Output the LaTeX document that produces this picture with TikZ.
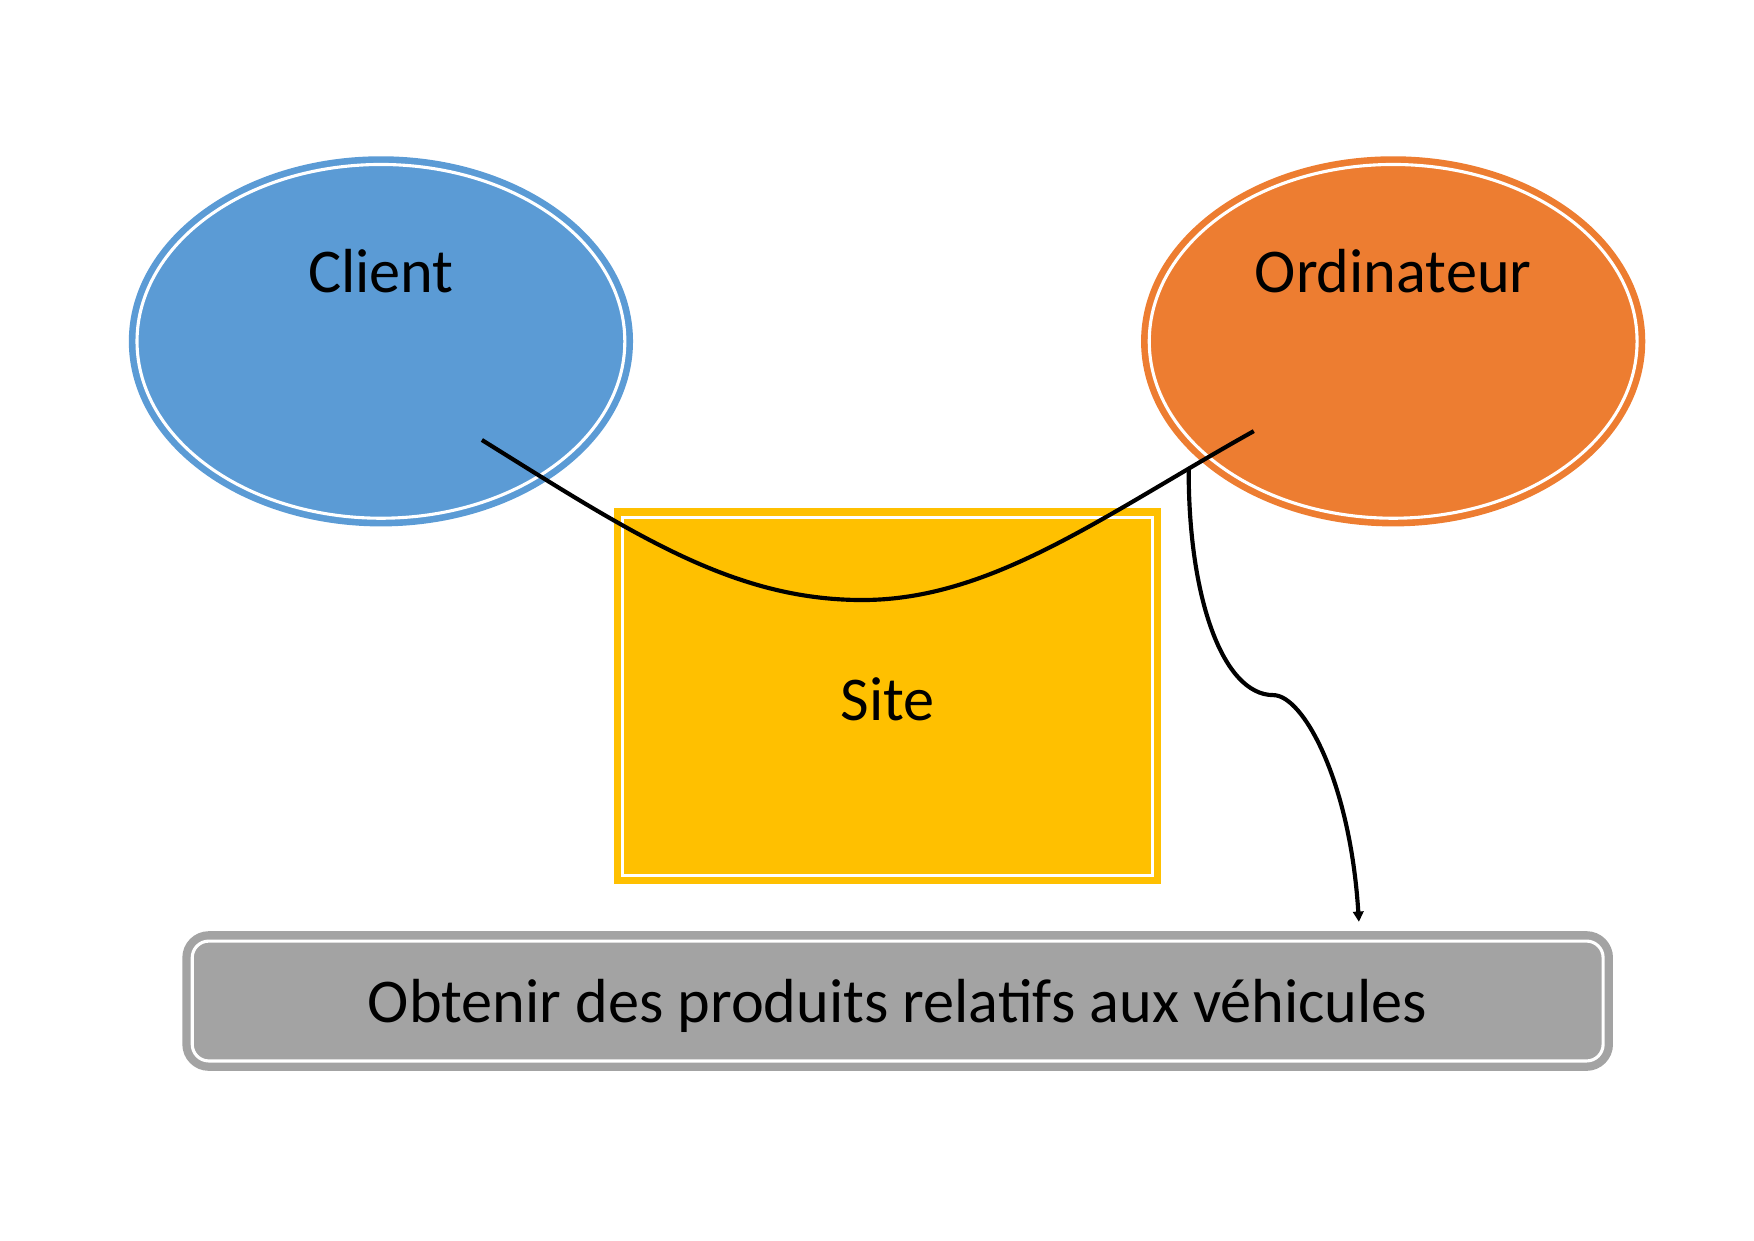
\documentclass[tikz,border=0pt]{standalone}
\usepackage{fontspec}
\setmainfont{Carlito}
\usetikzlibrary{shapes.geometric,arrows.meta}

\definecolor{bleuclient}{HTML}{5B9BD5}
\definecolor{orangeordi}{HTML}{ED7D31}
\definecolor{jaunesite}{HTML}{FFC000}
\definecolor{grisobjectif}{HTML}{A3A3A3}

\begin{document}
\begin{tikzpicture}[
  bulle/.style={ellipse, minimum width=8.26cm, minimum height=5.99cm, line width=3.2pt, double=white, double distance=1.5pt},
  boite/.style={rectangle, line width=3.5pt, double=white, double distance=1.5pt, text depth=0pt},
  titre/.style={anchor=base},
  lien/.style={line width=2pt},
  font=\fontsize{30}{36}\selectfont]
\def\ry{15.22}
\def\dy{.83cm}

\useasboundingbox (0,0) rectangle (29.7,21);

%%%%%%%%%%%%%-------------acteurs
\node[bulle, draw=bleuclient, fill=bleuclient] (client) at (6.45,\ry) {};
\node[titre] (clientlbl) at ([yshift=\dy]client.center) {Client};
\node[bulle, draw=orangeordi, fill=orangeordi] (ordi) at (23.59,\ry) {};
\node[titre] (ordilbl) at ([yshift=\dy]ordi.center) {Ordinateur};

%%%%%%%%%%%%%-------------site
\node[boite, draw=jaunesite, fill=jaunesite, minimum width=8.965cm, minimum height=6.065cm] (site) at (15.03,9.21) {};
\node[titre] (sitelbl) at ([yshift=-.41cm]site.center) {Site};

%%%%%%%%%%%%%-------------objectif
\node[boite, draw=grisobjectif, fill=grisobjectif, line width=4pt, rounded corners=8pt, minimum width=23.89cm, minimum height=2.03cm] (objectif) at (15.20,4.05) {Obtenir des produits relatifs aux véhicules};

%%%%%%%%%%%%%-------------liens
\coordinate (pA) at (8.16,13.55);
\coordinate (pM) at (14.60,10.84);
\coordinate (pB) at (21.23,13.70);
\coordinate (pK) at (21.56,9.23);
\coordinate (pT) at (23.01,5.39);

\draw[lien] (pA) .. controls (10.70,11.97) and (12.40,10.84) .. (pM)
  .. controls (16.80,10.84) and (18.69,12.28) .. (pB) coordinate[pos=.85] (pC);
\draw[lien, -{Triangle[length=5pt,width=5pt]}] (pC) .. controls (20.12,10.87) and (20.71,9.23) .. (pK)
  .. controls (22.06,9.23) and (22.86,7.79) .. (pT);

\end{tikzpicture}
\end{document}
